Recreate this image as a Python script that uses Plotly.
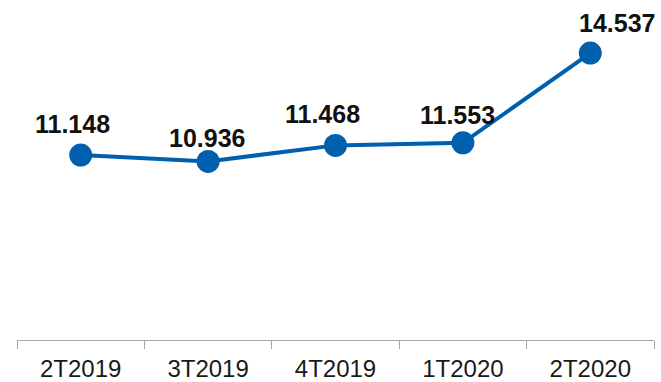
import plotly.graph_objects as go

# Quarterly values
quarters = ["2T2019", "3T2019", "4T2019", "1T2020", "2T2020"]
values = [11.148, 10.936, 11.468, 11.553, 14.537]
labels = ["11.148", "10.936", "11.468", "11.553", "14.537"]

# Label nudges (pixels) so the value tags sit clear of the line
label_dx = [-8, -1, -13, -5, 27]
label_dy = [15, 7, 15, 12, 14]

BLUE = "#0060AD"
FONT = "Liberation Sans, Arial, sans-serif"

fig = go.Figure()
fig.add_trace(go.Scatter(
    x=quarters,
    y=values,
    mode="lines+markers",
    line=dict(color=BLUE, width=4),
    marker=dict(color=BLUE, size=23),
    hoverinfo="skip",
    cliponaxis=False,
))

for q, v, t, dx, dy in zip(quarters, values, labels, label_dx, label_dy):
    fig.add_annotation(
        x=q, y=v, text=f"<b>{t}</b>", showarrow=False,
        xanchor="center", yanchor="bottom", xshift=dx, yshift=dy,
        font=dict(family=FONT, size=25, color="#111111"),
    )

fig.update_xaxes(
    type="category",
    range=[-0.5, 4.5],
    tickson="boundaries",
    ticks="outside",
    ticklen=8,
    tickcolor="#A6A6A6",
    showline=True,
    linecolor="#A6A6A6",
    linewidth=1,
    showgrid=False,
    zeroline=False,
    automargin=False,
    ticklabelstandoff=7,
    tickfont=dict(family=FONT, size=24, color="#1a1a1a"),
)
fig.update_yaxes(range=[5, 16.3], visible=False, showgrid=False, zeroline=False)

fig.update_layout(
    width=661, height=382,
    margin=dict(l=17, r=7, t=0, b=42),
    paper_bgcolor="white",
    plot_bgcolor="white",
    showlegend=False,
)

fig.write_html("out.html")
